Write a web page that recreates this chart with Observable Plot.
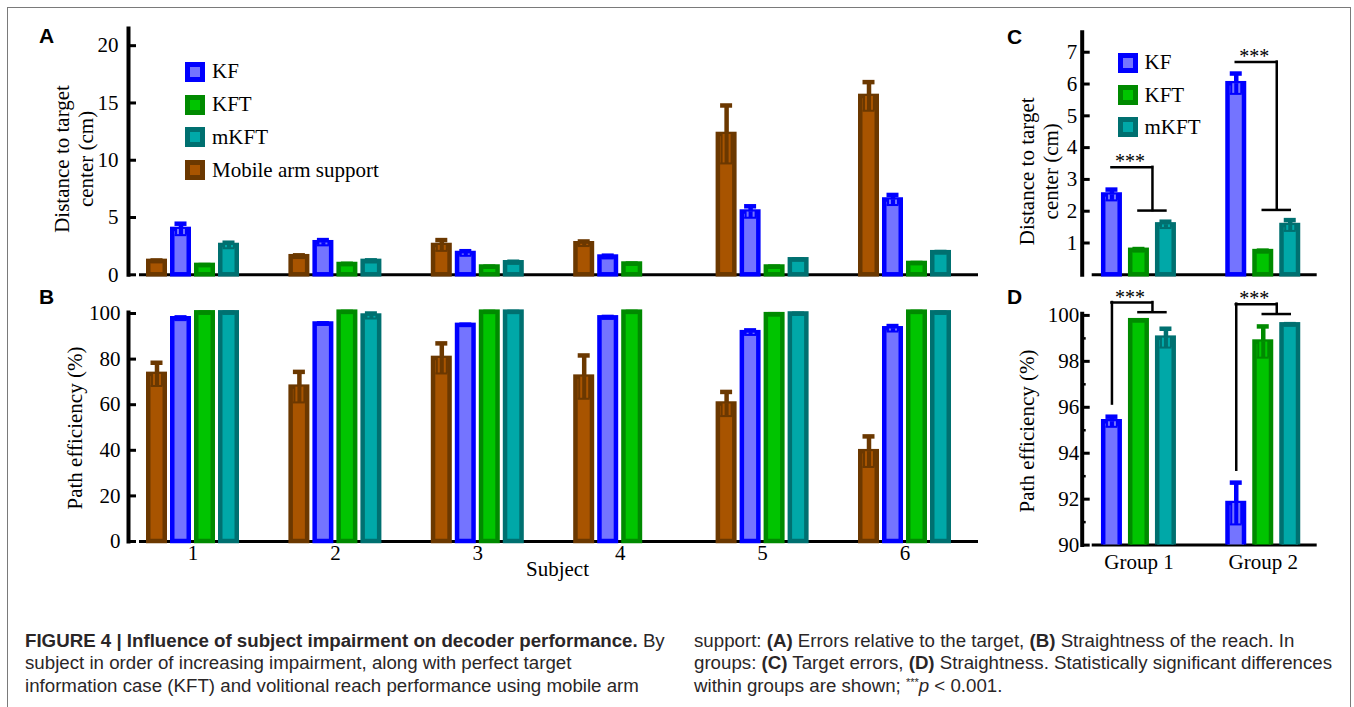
<!DOCTYPE html>
<html><head><meta charset="utf-8"><title>Figure 4</title>
<script src="https://cdn.jsdelivr.net/npm/d3@7"></script>
<script src="https://cdn.jsdelivr.net/npm/@observablehq/plot@0.6"></script>
<style>
html,body{margin:0;padding:0;background:#fff;}
#fig{position:relative;width:1354px;height:707px;overflow:hidden;background:#fff;}
.border{position:absolute;left:7px;top:7px;width:1344px;height:740px;border:1.5px solid #7a7a7a;box-sizing:border-box;}
.plabel{position:absolute;font-family:"Liberation Sans",Arial,sans-serif;font-weight:bold;font-size:21px;line-height:1;color:#000;}
.lrow{position:absolute;display:flex;align-items:center;white-space:nowrap;height:24px;font-family:"Liberation Serif","Times New Roman",serif;font-size:21px;color:#000;}
.sw{width:20px;height:20px;box-sizing:border-box;border:5.5px solid;margin-right:7px;flex:none;}
.cap{position:absolute;font-family:"Liberation Sans",Arial,sans-serif;font-size:18.7px;line-height:1;color:#2a2627;white-space:nowrap;}
.cap sup{font-size:11px;vertical-align:6px;line-height:0;}
</style></head>
<body>
<div id="fig"><div class="border"></div></div>
<script>
// ---------- data ----------
const subjects = ["1", "2", "3", "4", "5", "6"];
const groups = ["Group 1", "Group 2"];
const seriesNames = ["Mobile arm support", "KF", "KFT", "mKFT"];
const outerColors = ["#6b3800", "#0000ff", "#008a00", "#007070"];
const innerColors = ["#a85400", "#7474ff", "#00c400", "#00a8a8"];
const legendOrderA = ["KF", "KFT", "mKFT", "Mobile arm support"];
const legendOrderC = ["KF", "KFT", "mKFT"];

// Panel A: distance to target center (cm), by subject
const distMobile    = [1.17, 1.58, 2.56, 2.71, 12.25, 15.57];
const distMobileErr = [0.08, 0.12, 0.47, 0.20, 2.53, 1.25];
const distKF        = [3.96, 2.80, 1.86, 1.55, 5.48, 6.53];
const distKFErr     = [0.50, 0.23, 0.20, 0.12, 0.50, 0.44];
const distKFT       = [0.82, 0.90, 0.68, 0.94, 0.68, 0.99];
const distKFTErr    = [0.03, 0.06, 0.03, 0.04, 0.03, 0.04];
const distMKFT      = [2.56, 1.17, 1.05, null, 1.31, 1.93];
const distMKFTErr   = [0.24, 0.09, 0.09, null, 0.04, 0.06];

// Panel B: path efficiency (%), by subject
const effMobile    = [73.3, 67.7, 80.3, 72.1, 60.3, 39.4];
const effMobileErr = [5.1, 6.7, 6.6, 9.5, 5.3, 6.7];
const effKF        = [97.7, 95.4, 94.8, 98.1, 91.6, 93.3];
const effKFErr     = [0.6, 0.3, 0.3, 0.4, 1.0, 1.2];
const effKFT       = [100.3, 100.6, 100.6, 100.6, 99.5, 100.6];
const effKFTErr    = [0.1, 0.1, 0.1, 0.1, 0.2, 0.1];
const effMKFT      = [100.3, 98.9, 100.6, null, 99.8, 100.3];
const effMKFTErr   = [0.1, 1.1, 0.1, null, 0.1, 0.1];

// Panel C: distance to target center (cm), by group
const grpDistKF      = [2.51, 6.01];
const grpDistKFErr   = [0.17, 0.32];
const grpDistKFT     = [0.77, 0.73];
const grpDistKFTErr  = [0.04, 0.03];
const grpDistMKFT    = [1.57, 1.55];
const grpDistMKFTErr = [0.10, 0.17];

// Panel D: path efficiency (%), by group
const grpEffKF      = [95.37, 91.81];
const grpEffKFErr   = [0.22, 0.91];
const grpEffKFT     = [99.77, 98.84];
const grpEffKFTErr  = [0.02, 0.68];
const grpEffMKFT    = [99.01, 99.59];
const grpEffMKFTErr = [0.41, 0.03];

// significance brackets
const sigLabel = ["***", "***"];
const sigCTop = [3.38, 6.69];
const sigCLow = [2.02, 2.04];
const sigDTop = [100.56, 100.49];
const sigDLow = [100.14, 100.06];
const sigDLeftEnd = [96.14, 93.26];

// axis ticks
const ticksA = [0, 5, 10, 15, 20];
const ticksB = [0, 20, 40, 60, 80, 100];
const ticksC = [1, 2, 3, 4, 5, 6, 7];
const ticksD = [90, 92, 94, 96, 98, 100];
const minorTicksD = [91, 93, 95, 97, 99];

// ---------- helpers ----------
const SERIF = '"Liberation Serif","Times New Roman",Times,serif';
const fig = document.getElementById("fig");
const rowsOf = (cats, vals, errs) => cats.map((c, i) => ({cat: c, v: vals[i], e: errs[i]})).filter(d => d.v != null);

function barSeries(rows, off, bw, si, clip) {
  const W = 16.5, SW = 4.5, CAP = 12, IN = W - SW, half = bw / 2;
  const outer = outerColors[si], inner = innerColors[si];
  return [
    Plot.barY(rows, {x: "cat", y: "v", fill: inner, stroke: outer, strokeWidth: SW,
      insetLeft: half + off - W / 2, insetRight: half - off - W / 2, clip}),
    Plot.ruleX(rows, {x: "cat", y1: d => d.v - d.e, y2: "v", dx: off, stroke: outer, strokeWidth: IN}),
    Plot.ruleX(rows, {x: "cat", y1: d => d.v - d.e, y2: "v", dx: off, stroke: inner, strokeWidth: IN - 4}),
    Plot.ruleX(rows, {x: "cat", y1: d => d.v - d.e, y2: "v", dx: off, stroke: outer, strokeWidth: IN - 8}),
    Plot.tickY(rows, {x: "cat", y: d => d.v - d.e, stroke: outer, strokeWidth: 2,
      insetLeft: half + off - IN / 2, insetRight: half - off - IN / 2}),
    Plot.ruleX(rows, {x: "cat", y1: "v", y2: d => d.v + d.e, dx: off, stroke: outer, strokeWidth: SW}),
    Plot.tickY(rows, {x: "cat", y: d => d.v + d.e, stroke: outer, strokeWidth: SW,
      insetLeft: half + off - CAP / 2, insetRight: half - off - CAP / 2})
  ];
}

function bracketMarks(rows, bw, withLeft) {
  const half = bw / 2, kf = -27, mid = 13.5, kft = 0, mk = 27;
  const st = {stroke: "#000", strokeWidth: 2.5, strokeLinecap: "square"};
  const m = [
    Plot.tickY(rows, {x: "cat", y: "top", insetLeft: half + kf, insetRight: half - mid, ...st}),
    Plot.ruleX(rows, {x: "cat", y1: "low", y2: "top", dx: mid, ...st}),
    Plot.tickY(rows, {x: "cat", y: "low", insetLeft: half + kft, insetRight: half - mk, ...st}),
    Plot.text(rows, {x: "cat", y: "top", text: "label", dx: -9, dy: 1, lineAnchor: "bottom", fontSize: 20, fill: "#000"})
  ];
  if (withLeft) m.push(Plot.ruleX(rows, {x: "cat", y1: "leftEnd", y2: "top", dx: kf, ...st}));
  return m;
}

function yTitle(label, dx, dy) {
  return Plot.text([label], {text: d => d, frameAnchor: "left", textAnchor: "middle", lineAnchor: "middle",
    rotate: -90, dx, dy, fontSize: 21, lineHeight: 1.19, fill: "#000"});
}

function place(el, left, top) {
  el.style.position = "absolute";
  el.style.left = left + "px";
  el.style.top = top + "px";
  fig.appendChild(el);
}

const baseStyle = {fontFamily: SERIF, fontSize: "21px", color: "#000", background: "transparent", overflow: "visible"};

// ---------- Panel A ----------
const bwAB = (975.7 - 121.3) / subjects.length;
const offAB = [-36, -12, 12, 36];
const serA = [[distMobile, distMobileErr], [distKF, distKFErr], [distKFT, distKFTErr], [distMKFT, distMKFTErr]];
const plotA = Plot.plot({
  width: 990, height: 285, marginLeft: 128, marginRight: 12, marginTop: 28, marginBottom: 10.7,
  style: baseStyle,
  x: {type: "band", domain: subjects, range: [121.3, 975.7], padding: 0, round: false, axis: null},
  y: {domain: [0, 21.5]},
  marks: [
    Plot.frame({anchor: "left", stroke: "#000", strokeWidth: 4}),
    Plot.ruleY([0], {insetLeft: 11, stroke: "#000", strokeWidth: 3}),
    ...serA.flatMap(([v, e], si) => barSeries(rowsOf(subjects, v, e), offAB[si], bwAB, si, false)),
    Plot.axisY({ticks: ticksA, tickSize: 0, tickPadding: 10, label: null}),
    Plot.axisY({ticks: ticksA, tickSize: -8, strokeWidth: 3, fill: "none", label: null}),
    yTitle("Distance to target\ncenter (cm)", -55.5, 7.3)
  ]
});
place(plotA, 0, 0);

// ---------- Panel B ----------
const serB = [[effMobile, effMobileErr], [effKF, effKFErr], [effKFT, effKFTErr], [effMKFT, effMKFTErr]];
const plotB = Plot.plot({
  width: 990, height: 305, marginLeft: 128, marginRight: 12, marginTop: 27.1, marginBottom: 49,
  style: baseStyle,
  x: {type: "band", domain: subjects, range: [121.3, 975.7], padding: 0, round: false},
  y: {domain: [0, 100.4]},
  marks: [
    Plot.frame({anchor: "left", stroke: "#000", strokeWidth: 4}),
    Plot.ruleY([0], {insetLeft: 11, stroke: "#000", strokeWidth: 3}),
    ...serB.flatMap(([v, e], si) => barSeries(rowsOf(subjects, v, e), offAB[si], bwAB, si, false)),
    Plot.axisY({ticks: ticksB, tickSize: 0, tickPadding: 8, label: null}),
    Plot.axisY({ticks: ticksB, tickSize: -8, strokeWidth: 3, fill: "none", label: null}),
    Plot.axisX({tickSize: 0, tickPadding: 4, label: null}),
    yTitle("Path efficiency (%)", -55, 1),
    Plot.text(["Subject"], {text: d => d, frameAnchor: "bottom", dx: 4, dy: 34, fontSize: 21, fill: "#000"})
  ]
});
place(plotB, 0, 285);

// ---------- Panel C ----------
const bwCD = (334.9 - 86.3) / groups.length;
const offCD = [-27, 0, 27];
const serC = [[grpDistKF, grpDistKFErr], [grpDistKFT, grpDistKFTErr], [grpDistMKFT, grpDistMKFTErr]];
const sigCRows = groups.map((g, i) => ({cat: g, top: sigCTop[i], low: sigCLow[i], label: sigLabel[i]}));
const plotC = Plot.plot({
  width: 360, height: 285, marginLeft: 91.7, marginRight: 33.3, marginTop: 31.7, marginBottom: 10.7,
  style: baseStyle,
  x: {type: "band", domain: groups, range: [86.3, 334.9], padding: 0, round: false, axis: null},
  y: {domain: [0, 7.63]},
  marks: [
    Plot.frame({anchor: "left", stroke: "#000", strokeWidth: 4}),
    Plot.ruleY([0], {insetLeft: 10, stroke: "#000", strokeWidth: 3}),
    ...serC.flatMap(([v, e], k) => barSeries(rowsOf(groups, v, e), offCD[k], bwCD, k + 1, false)),
    ...bracketMarks(sigCRows, bwCD, false),
    Plot.axisY({ticks: ticksC, tickSize: 0, tickPadding: 5, label: null}),
    Plot.axisY({ticks: ticksC, tickSize: -8, strokeWidth: 3, fill: "none", label: null}),
    yTitle("Distance to target\ncenter (cm)", -44.2, 17.8)
  ]
});
place(plotC, 990, 0);

// ---------- Panel D ----------
const serD = [[grpEffKF, grpEffKFErr], [grpEffKFT, grpEffKFTErr], [grpEffMKFT, grpEffMKFTErr]];
const sigDRows = groups.map((g, i) => ({cat: g, top: sigDTop[i], low: sigDLow[i], leftEnd: sigDLeftEnd[i], label: sigLabel[i]}));
const plotD = Plot.plot({
  width: 360, height: 305, marginLeft: 91.7, marginRight: 33.3, marginTop: 28.3, marginBottom: 45.4,
  style: baseStyle,
  x: {type: "band", domain: groups, range: [86.3, 334.9], padding: 0, round: false},
  y: {domain: [90, 100.07]},
  marks: [
    Plot.frame({anchor: "left", stroke: "#000", strokeWidth: 4}),
    Plot.ruleY([90], {insetLeft: 10, stroke: "#000", strokeWidth: 3}),
    ...serD.flatMap(([v, e], k) => barSeries(rowsOf(groups, v, e), offCD[k], bwCD, k + 1, true)),
    ...bracketMarks(sigDRows, bwCD, true),
    Plot.axisY({ticks: ticksD, tickSize: 0, tickPadding: 3, label: null}),
    Plot.axisY({ticks: ticksD, tickSize: -8, strokeWidth: 3, fill: "none", label: null}),
    Plot.axisY({ticks: minorTicksD, tickSize: -4, strokeWidth: 2.5, fill: "none", label: null}),
    Plot.axisX({tickSize: 0, tickPadding: 9, label: null}),
    yTitle("Path efficiency (%)", -56.7, 1.5)
  ]
});
place(plotD, 990, 285);

// ---------- legends ----------
function legend(order, left, centers) {
  order.forEach((name, i) => {
    const si = seriesNames.indexOf(name);
    const row = document.createElement("div");
    row.className = "lrow";
    const sw = document.createElement("div");
    sw.className = "sw";
    sw.style.borderColor = outerColors[si];
    sw.style.background = innerColors[si];
    const tx = document.createElement("span");
    tx.textContent = name;
    row.appendChild(sw); row.appendChild(tx);
    place(row, left, centers[i] - 12);
  });
}
legend(legendOrderA, 185, [71.7, 104.5, 137.3, 170.1]);
legend(legendOrderC, 1117.5, [62.7, 95, 127.3]);

// ---------- panel letters ----------
[["A", 39, 24.5], ["B", 39, 285.5], ["C", 1007, 25.5], ["D", 1007, 285.5]].forEach(([t, x, y]) => {
  const d = document.createElement("div"); d.className = "plabel"; d.textContent = t; place(d, x, y);
});

// ---------- caption ----------
const capLeft = [
  '<b>FIGURE 4 | Influence of subject impairment on decoder performance.</b> By',
  'subject in order of increasing impairment, along with perfect target',
  'information case (KFT) and volitional reach performance using mobile arm'
];
const capRight = [
  'support: <b>(A)</b> Errors relative to the target, <b>(B)</b> Straightness of the reach. In',
  'groups: <b>(C)</b> Target errors, <b>(D)</b> Straightness. Statistically significant differences',
  'within groups are shown; <sup>***</sup><i>p</i> &lt; 0.001.'
];
const capTops = [631.5, 654, 676.5];
capLeft.forEach((h, i) => { const d = document.createElement("div"); d.className = "cap"; d.innerHTML = h; place(d, 25, capTops[i]); });
capRight.forEach((h, i) => { const d = document.createElement("div"); d.className = "cap"; d.innerHTML = h; place(d, 694, capTops[i]); });
</script>
</body></html>
